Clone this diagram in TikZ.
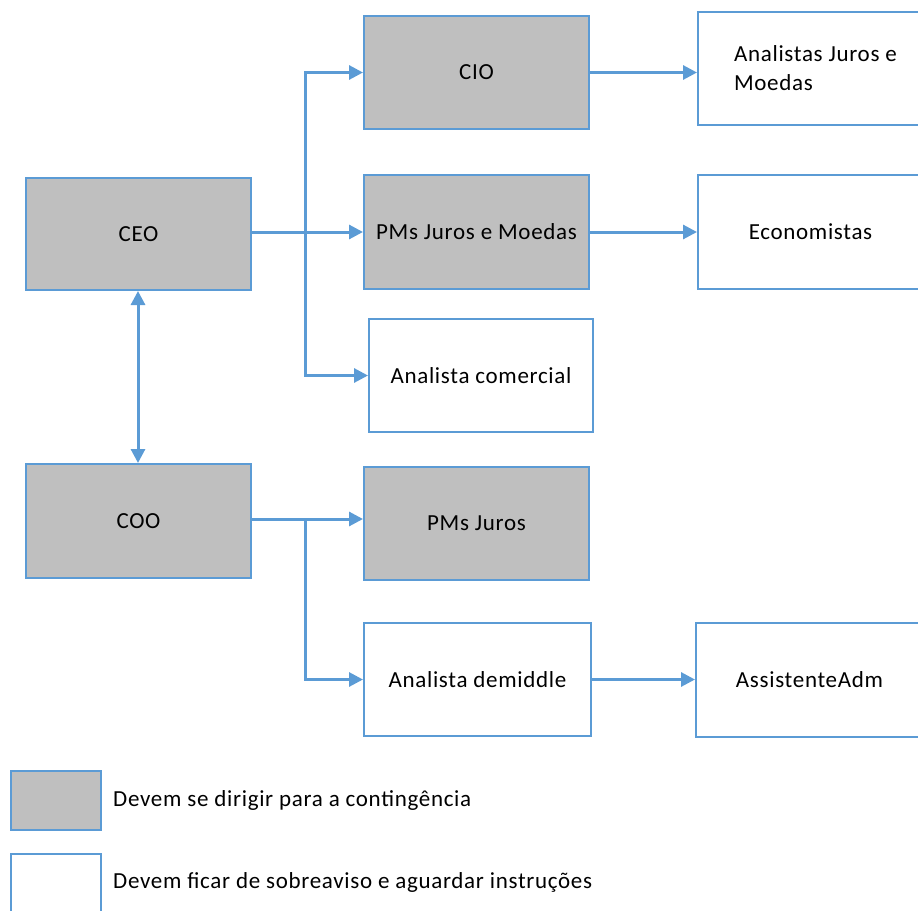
\documentclass[tikz,border=0pt]{standalone}
\usepackage{fontspec}
\setmainfont{Carlito}[LetterSpace=3]
\usetikzlibrary{arrows.meta}
\definecolor{lblue}{HTML}{5B9BD5}
\definecolor{boxgray}{HTML}{BFBFBF}
\begin{document}
\begin{tikzpicture}[x=1pt,y=-1pt,
  box/.style={draw=lblue,line width=2pt,inner sep=0pt,anchor=north west,
    font=\fontsize{23}{29}\selectfont},
  gbox/.style={box,fill=boxgray},
  wbox/.style={box,fill=white},
  arr/.style={draw=lblue,line width=3pt,-{Triangle[length=14pt,width=14pt]}},
  legtext/.style={anchor=west,inner sep=0pt,font=\fontsize{23}{29}\selectfont}]
\useasboundingbox (0,0) rectangle (918,910);
% boxes
\node[gbox,minimum width=225pt,minimum height=112pt] (ceo) at (25,177) {CEO};
\node[gbox,minimum width=225pt,minimum height=114pt] (coo) at (25,463) {COO};
\node[gbox,minimum width=225pt,minimum height=113pt] (cio) at (363,15) {CIO};
\node[gbox,minimum width=225pt,minimum height=114pt] (pmjm) at (363,174) {PMs Juros e Moedas};
\node[wbox,minimum width=224pt,minimum height=113pt] (ac) at (368,318) {Analista comercial};
\node[gbox,minimum width=225pt,minimum height=113pt] (pmj) at (363,466) {PMs Juros};
\node[wbox,minimum width=227pt,minimum height=113pt] (ad) at (363,622) {Analista demiddle};
\node[wbox,minimum width=225pt,minimum height=113pt,align=left] (ajm) at (697,11) {\rule{0pt}{14pt}\hspace*{10pt}Analistas Juros e\\\hspace*{10pt}Moedas\hspace*{80pt}};
\node[wbox,minimum width=225pt,minimum height=114pt] (eco) at (697,174) {Economistas};
\node[wbox,minimum width=227pt,minimum height=114pt] (adm) at (695,622) {AssistenteAdm};
% connectors
\coordinate (j1) at (305,232);
\coordinate (j2) at (305,519);
\draw[arr] (ceo.east |- j1) -- (pmjm.west |- j1);
\draw[arr] (j1) |- (cio.west);
\draw[arr] (j1) |- (ac.west);
\draw[arr] (cio.east) -- (ajm.west |- cio.east);
\draw[arr] (pmjm.east |- j1) -- (eco.west |- j1);
\draw[arr,{Triangle[length=14pt,width=14pt]}-{Triangle[length=14pt,width=14pt]}] (ceo.south -| 138,0) -- (coo.north -| 138,0);
\draw[arr] (coo.east |- j2) -- (pmj.west |- j2);
\draw[arr] (j2) |- (ad.west);
\draw[arr] (ad.east) -- (adm.west |- ad.east);
% legend
\node[gbox,minimum width=90pt,minimum height=59pt] (lg) at (10,770) {};
\node[wbox,minimum width=90pt,minimum height=60pt] (lw) at (10,853) {};
\node[legtext] (lgt) at (113,800) {Devem se dirigir para a contingência};
\node[legtext] (lwt) at (113,882) {Devem ficar de sobreaviso e aguardar instruções};
\end{tikzpicture}
\end{document}
